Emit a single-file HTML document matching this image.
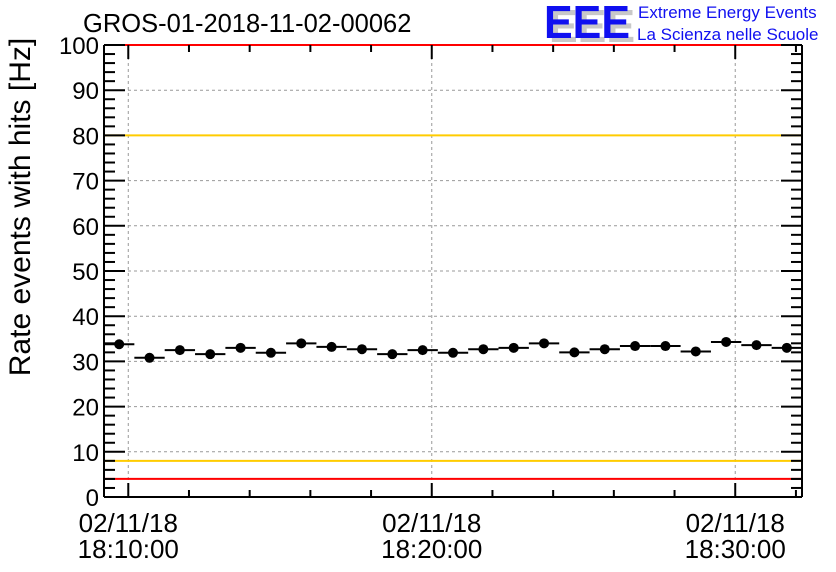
<!DOCTYPE html>
<html><head><meta charset="utf-8"><style>
html,body{margin:0;padding:0;background:#fff;}
svg{display:block;font-family:"Liberation Sans",sans-serif;}
</style></head><body>
<svg id="c" width="836" height="572">
<rect width="836" height="572" fill="#fff"/>
<g id="grid"></g><g id="lines"></g><g id="axes"></g><g id="marks"></g>
<text x="83" y="32" font-size="25.5">GROS-01-2018-11-02-00062</text>
<g>
<text x="549" y="42" font-size="46" font-weight="bold" fill="#c8c8c8" textLength="86" lengthAdjust="spacingAndGlyphs">EEE</text>
<text x="544" y="38" font-size="46" font-weight="bold" fill="#1010f0" textLength="86" lengthAdjust="spacingAndGlyphs">EEE</text>
<text x="638" y="18" font-size="17" fill="#1010f0">Extreme Energy Events</text>
<text x="637" y="40" font-size="17" fill="#1010f0">La Scienza nelle Scuole</text>
</g>
<text transform="translate(30,207) rotate(-90)" text-anchor="middle" font-size="30">Rate events with hits [Hz]</text>
</svg>
<script>
const values=[33.8,30.8,32.5,31.6,33.0,31.9,34.0,33.2,32.7,31.6,32.5,31.9,32.7,33.0,34.0,32.0,32.7,33.4,33.4,32.2,34.3,33.6,33.0];
const binStartMin=-0.8, binWidthMin=1;
const yTicks=[0,10,20,30,40,50,60,70,80,90,100];
const xTickMin=[0,10,20];
const xTickLabels=[["02/11/18","18:10:00"],["02/11/18","18:20:00"],["02/11/18","18:30:00"]];
const limitsRed=[4,100], limitsOrange=[8,80];
const L=104,R=802,T=45,B=497;
const xMin=-0.8,xMax=22.2;
const X=m=>L+(m-xMin)/(xMax-xMin)*(R-L);
const Y=v=>B-v/100*(B-T);
const NS="http://www.w3.org/2000/svg";
function mk(parent,tag,attrs){const e=document.createElementNS(NS,tag);for(const k in attrs)e.setAttribute(k,attrs[k]);document.getElementById(parent).appendChild(e);return e;}
yTicks.forEach(v=>{if(v>0&&v<100){const e=mk('grid','line',{x1:L,x2:R,y1:Y(v),y2:Y(v),stroke:'#999','stroke-dasharray':'3,3','stroke-width':1});

}});
xTickMin.forEach(m=>{const e=mk('grid','line',{x1:X(m),x2:X(m),y1:T,y2:B,stroke:'#999','stroke-dasharray':'3,3','stroke-width':1});

});
limitsOrange.forEach(v=>{const e=mk('lines','line',{x1:L,x2:R,y1:Y(v),y2:Y(v),stroke:'#ffcc00','stroke-width':2});

});
limitsRed.forEach(v=>{const e=mk('lines','line',{x1:L,x2:R,y1:Y(v),y2:Y(v),stroke:'#ff0000','stroke-width':2});

});
[[L,T,L,B],[L,B,R,B],[R,T,R,B]].forEach(a=>{const e=mk('axes','line',{x1:a[0],y1:a[1],x2:a[2],y2:a[3],stroke:'#000','stroke-width':2});

});
for(let v=0;v<=100;v+=2){const maj=v%10===0;const len=maj?21:11;
const e=mk('axes','line',{x1:L,x2:L+len,y1:Y(v),y2:Y(v),stroke:'#000','stroke-width':2});


const f=mk('axes','line',{x1:R,x2:R-len,y1:Y(v),y2:Y(v),stroke:'#000','stroke-width':2});

}
yTicks.forEach(v=>{const t=mk('axes','text',{x:99,y:Y(v)+9,'text-anchor':'end','font-size':24});t.textContent=v;

});
for(let m=0;m<=22;m+=2){const maj=m%10===0;const len=maj?14:7;
const e=mk('axes','line',{x1:X(m),x2:X(m),y1:B,y2:B-len,stroke:'#000','stroke-width':2});


const f=mk('axes','line',{x1:X(m),x2:X(m),y1:T,y2:T+len,stroke:'#000','stroke-width':2});

}
xTickMin.forEach((m,i)=>{xTickLabels[i].forEach((s,j)=>{const t=mk('axes','text',{x:X(m),y:532+j*26,'text-anchor':'middle','font-size':26});t.textContent=s;

});});
values.forEach((v,i)=>{const x0=X(binStartMin+i*binWidthMin),x1=X(binStartMin+(i+1)*binWidthMin),cx=(x0+x1)/2;
const e=mk('marks','line',{x1:x0,x2:x1,y1:Y(v),y2:Y(v),stroke:'#000','stroke-width':2});


const c=mk('marks','circle',{cx:cx,cy:Y(v),r:5,fill:'#000'});

});
</script>
</body></html>
